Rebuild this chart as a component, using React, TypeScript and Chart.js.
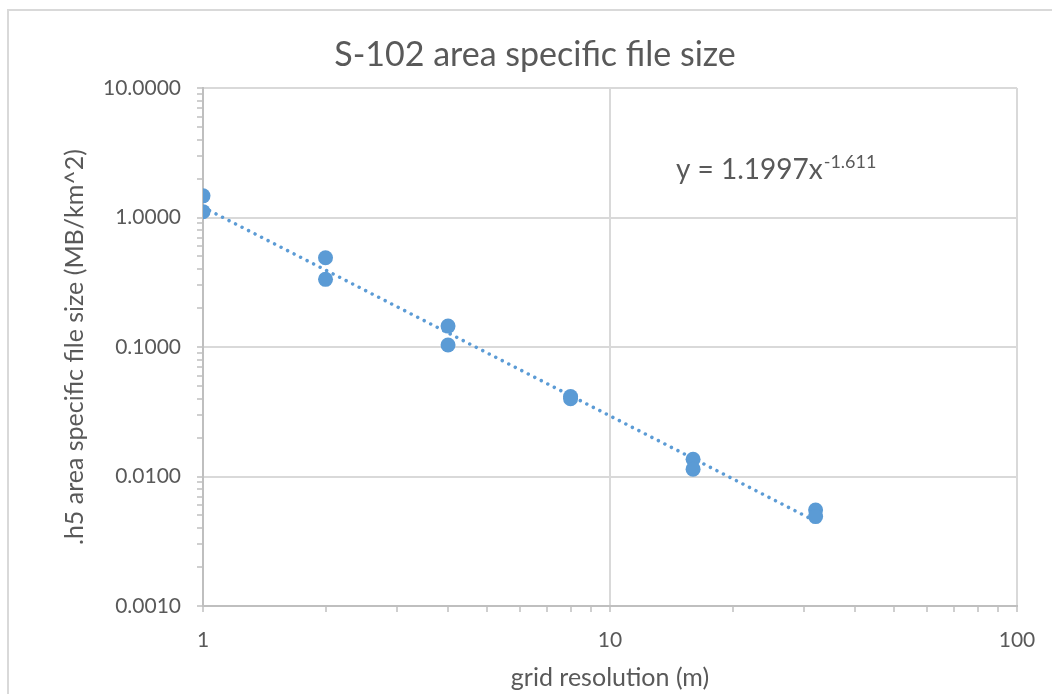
import React, { useEffect, useRef } from "react";
import { Chart, registerables } from "chart.js";

Chart.register(...registerables);

// ---- data ----
const gridResolution = [1, 1, 2, 2, 4, 4, 8, 8, 16, 16, 32, 32];
const fileSize = [1.47, 1.11, 0.489, 0.333, 0.145, 0.1035, 0.0415, 0.0398, 0.0136, 0.0114, 0.0055, 0.0049];

const trendCoef = 1.1997;
const trendExp = -1.611;
const trendRange = [1, 32];

const xMajorTicks = [1, 10, 100];
const xTickLabels = ["1", "10", "100"];
const yMajorTicks = [0.001, 0.01, 0.1, 1, 10];
const yTickLabels = ["0.0010", "0.0100", "0.1000", "1.0000", "10.0000"];

const chartTitle = "S-102 area specific file size";
const xTitle = "grid resolution (m)";
const yTitle = ".h5 area specific file size (MB/km^2)";
const eqMain = "y = 1.1997x";
const eqSup = "-1.611";

const FONT = "Lato";
const TEXT = "#595959";
const BLUE = "#5b9bd5";

function buildLogTicks(majors: number[]) {
  const out: { value: number; major: boolean }[] = [];
  for (let i = 0; i < majors.length - 1; i++) {
    for (let m = 1; m <= 9; m++) {
      out.push({ value: parseFloat((m * majors[i]).toPrecision(6)), major: m === 1 });
    }
  }
  out.push({ value: majors[majors.length - 1], major: true });
  return out;
}

function majorIndex(majors: number[], v: number) {
  return majors.findIndex((m) => Math.abs(m - v) / m < 1e-6);
}

export default function App() {
  const ref = useRef<HTMLCanvasElement | null>(null);

  useEffect(() => {
    if (!ref.current) return;
    const trendData = trendRange.map((x) => ({ x, y: trendCoef * Math.pow(x, trendExp) }));
    const pts = gridResolution.map((x, i) => ({ x, y: fileSize[i] }));

    const borderPlugin = {
      id: "frame",
      beforeDraw(chart: any) {
        const c = chart.ctx;
        c.save();
        c.fillStyle = "#d9d9d9";
        c.fillRect(7, 9, chart.width, 2);
        c.fillRect(7, 9, 2, chart.height);
        c.restore();
      },
    };

    const eqPlugin = {
      id: "equation",
      afterDatasetsDraw(chart: any) {
        const c = chart.ctx;
        const a = chart.chartArea;
        const x = a.left + 0.581 * (a.right - a.left);
        const y = a.top + 0.1766 * (a.bottom - a.top);
        c.save();
        c.fillStyle = TEXT;
        c.textBaseline = "alphabetic";
        c.textAlign = "left";
        c.font = `28px ${FONT}`;
        c.fillText(eqMain, x, y);
        const w = c.measureText(eqMain).width;
        c.font = `18px ${FONT}`;
        c.fillText(eqSup, x + w + 1, y - 11);
        c.restore();
      },
    };

    const chart = new Chart(ref.current, {
      type: "scatter",
      data: {
        datasets: [
          {
            label: "data",
            data: pts,
            backgroundColor: BLUE,
            borderWidth: 0,
            pointRadius: 7.5,
            order: 0,
          },
          {
            label: "trend",
            type: "line",
            data: trendData,
            borderColor: BLUE,
            borderWidth: 3.5,
            borderDash: [0.01, 7.3],
            borderCapStyle: "round",
            pointRadius: 0,
            fill: false,
            order: 1,
          } as any,
        ],
      },
      options: {
        responsive: false,
        animation: false,
        layout: { padding: { left: 53, right: 35, top: 0, bottom: 0 } },
        plugins: {
          legend: { display: false },
          tooltip: { enabled: false },
          title: {
            display: true,
            text: chartTitle,
            color: TEXT,
            font: { family: FONT, size: 34, weight: "normal" },
            padding: { top: 34.6, bottom: 12.6 },
          },
        },
        scales: {
          x: {
            type: "logarithmic",
            min: 1,
            max: 100,
            afterBuildTicks: (s: any) => {
              s.ticks = buildLogTicks(xMajorTicks);
            },
            afterFit: (s: any) => {
              s.height = 88;
            },
            ticks: {
              autoSkip: false,
              maxRotation: 0,
              padding: 16,
              color: TEXT,
              font: { family: FONT, size: 21 },
              callback: (v: any) => {
                const i = majorIndex(xMajorTicks, Number(v));
                return i >= 0 ? xTickLabels[i] : "";
              },
            },
            grid: {
              color: (ctx: any) =>
                ctx.tick && majorIndex(xMajorTicks, ctx.tick.value) >= 0 ? "#d9d9d9" : "rgba(0,0,0,0)",
              lineWidth: 2,
              tickColor: "#bfbfbf",
              tickWidth: 1.5,
              tickLength: 6,
            },
            border: { color: "#bfbfbf", width: 2 },
            title: {
              display: true,
              text: xTitle,
              color: TEXT,
              font: { family: FONT, size: 25, lineHeight: 1.2 },
              padding: { top: 0, bottom: 1 },
            },
          },
          y: {
            type: "logarithmic",
            min: 0.001,
            max: 10,
            afterBuildTicks: (s: any) => {
              s.ticks = buildLogTicks(yMajorTicks);
            },
            afterFit: (s: any) => {
              s.width = 150;
            },
            ticks: {
              autoSkip: false,
              padding: 16,
              color: TEXT,
              font: { family: FONT, size: 21 },
              callback: (v: any) => {
                const i = majorIndex(yMajorTicks, Number(v));
                return i >= 0 ? yTickLabels[i] : "";
              },
            },
            grid: {
              color: (ctx: any) =>
                ctx.tick && majorIndex(yMajorTicks, ctx.tick.value) >= 0 ? "#d9d9d9" : "rgba(0,0,0,0)",
              lineWidth: 2,
              tickColor: "#bfbfbf",
              tickWidth: 1.5,
              tickLength: 6,
            },
            border: { color: "#bfbfbf", width: 2 },
            title: {
              display: true,
              text: yTitle,
              color: TEXT,
              font: { family: FONT, size: 25 },
              padding: { top: 7, bottom: 0 },
            },
          },
        },
      },
      plugins: [borderPlugin, eqPlugin],
    });
    return () => chart.destroy();
  }, []);

  return (
    <div style={{ position: "fixed", left: 0, top: 0, width: "1052px", height: "694px" }}>
      <canvas
        ref={ref}
        width={1052}
        height={694}
        style={{ display: "block", width: "1052px", height: "694px" }}
      />
    </div>
  );
}
